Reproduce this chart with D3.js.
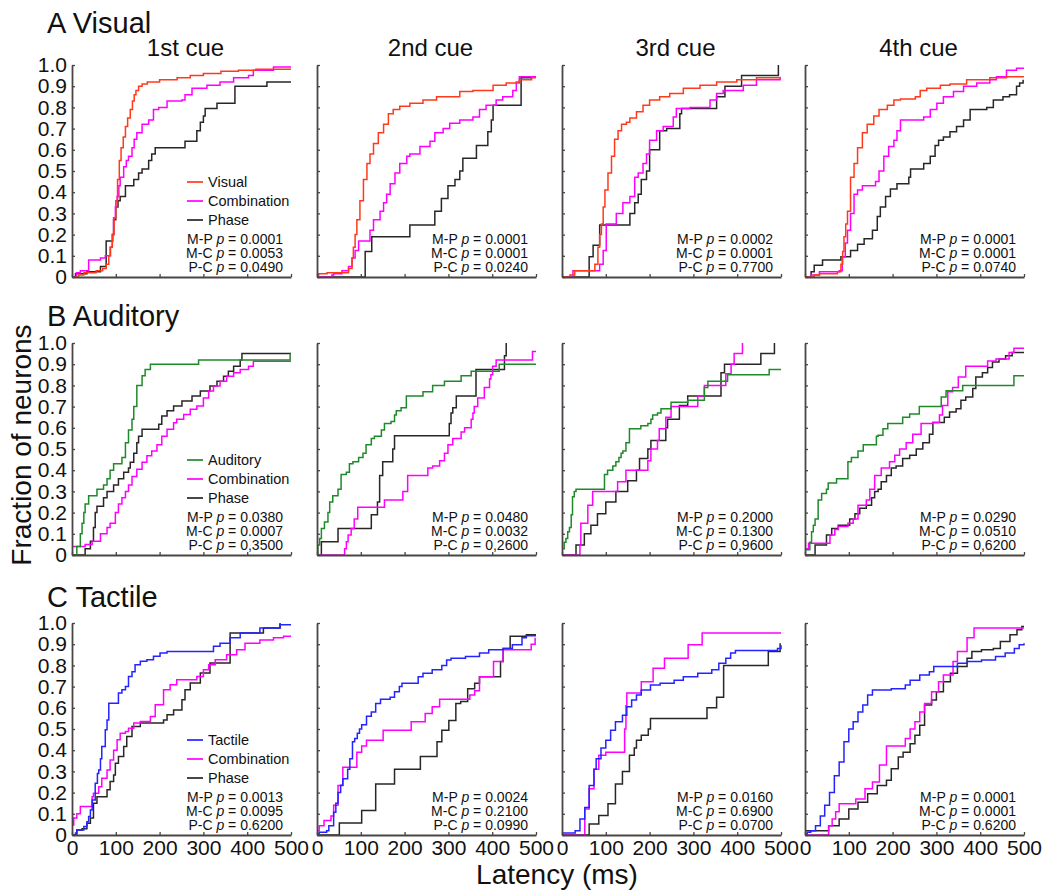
<!DOCTYPE html>
<html>
<head>
<meta charset="utf-8">
<script src="https://cdnjs.cloudflare.com/ajax/libs/d3/7.8.5/d3.min.js"></script>
<style>
body { margin: 0; background: #fff; }
svg text { font-family: Arial, "Liberation Sans", Helvetica, sans-serif; fill: #111; }
</style>
</head>
<body>
<svg id="chart" width="1042" height="894"></svg>
<script>
// ---- categories / labels ----
var rowNames = ["Visual", "Auditory", "Tactile"];
var rowLetters = ["A", "B", "C"];
var cueNames = ["1st cue", "2nd cue", "3rd cue", "4th cue"];
var xTicks = [0, 100, 200, 300, 400, 500];
var yTicks = [0, 0.1, 0.2, 0.3, 0.4, 0.5, 0.6, 0.7, 0.8, 0.9, 1.0];
var pairNames = ["M-P", "M-C", "P-C"];

// p values per row, per cue (M-P, M-C, P-C)
var pVisual = [["0.0001", "0.0053", "0.0490"], ["0.0001", "0.0001", "0.0240"], ["0.0002", "0.0001", "0.7700"], ["0.0001", "0.0001", "0.0740"]];
var pAuditory = [["0.0380", "0.0007", "0,3500"], ["0.0480", "0.0032", "0,2600"], ["0.2000", "0.1300", "0,9600"], ["0.0290", "0.0510", "0,6200"]];
var pTactile = [["0.0013", "0.0095", "0.6200"], ["0.0024", "0.2100", "0.0990"], ["0.0160", "0.6900", "0.0700"], ["0.0001", "0.0001", "0.6200"]];

// ---- cumulative curves: [latency ms, fraction of neurons] ----
// A Visual
var aVis1 = [[0,0],[15,0.01],[27,0.02],[55,0.03],[70,0.04],[78,0.06],[84,0.1],[88,0.14],[92,0.2],[96,0.28],[100,0.36],[104,0.46],[108,0.55],[112,0.61],[117,0.66],[122,0.71],[127,0.75],[133,0.79],[138,0.83],[142,0.86],[146,0.88],[152,0.9],[160,0.91],[172,0.92],[200,0.93],[240,0.94],[270,0.95],[300,0.96],[340,0.97],[380,0.975],[420,0.98],[500,0.98]];
var aComb1 = [[0,0],[10,0.02],[19,0.03],[38,0.08],[65,0.09],[76,0.1],[87,0.14],[92,0.2],[95,0.28],[99,0.33],[103,0.38],[107,0.43],[110,0.47],[118,0.52],[124,0.55],[129,0.57],[137,0.61],[142,0.65],[148,0.68],[160,0.72],[175,0.74],[186,0.79],[198,0.8],[217,0.83],[251,0.835],[258,0.86],[274,0.89],[308,0.905],[338,0.92],[369,0.94],[403,0.95],[414,0.975],[460,0.99],[500,0.99]];
var aPhase1 = [[0,0],[8,0.015],[34,0.025],[65,0.05],[78,0.17],[93,0.2],[95,0.27],[100,0.33],[105,0.36],[110,0.38],[122,0.43],[141,0.46],[152,0.49],[160,0.51],[175,0.55],[182,0.58],[190,0.61],[258,0.64],[285,0.69],[293,0.73],[300,0.76],[304,0.795],[331,0.82],[372,0.9],[445,0.92],[500,0.92]];
var aVis2 = [[0,0.01],[4,0.015],[23,0.02],[72,0.04],[80,0.09],[83,0.14],[87,0.2],[91,0.27],[98,0.36],[106,0.46],[114,0.535],[121,0.58],[129,0.63],[140,0.68],[152,0.72],[163,0.77],[174,0.79],[189,0.805],[212,0.82],[242,0.835],[273,0.85],[326,0.875],[356,0.88],[402,0.905],[432,0.915],[462,0.93],[490,0.94],[500,0.94]];
var aComb2 = [[0,0],[34,0.01],[38,0.015],[57,0.03],[72,0.05],[80,0.09],[87,0.125],[95,0.17],[121,0.22],[129,0.27],[144,0.31],[152,0.35],[159,0.39],[167,0.44],[178,0.49],[189,0.535],[205,0.57],[212,0.58],[235,0.615],[258,0.64],[269,0.68],[288,0.7],[303,0.725],[326,0.74],[356,0.755],[371,0.79],[386,0.81],[409,0.835],[424,0.85],[447,0.88],[455,0.92],[462,0.945],[500,0.945]];
var aPhase2 = [[0,0],[110,0.12],[125,0.19],[212,0.245],[269,0.31],[284,0.37],[299,0.43],[315,0.46],[326,0.5],[333,0.56],[364,0.62],[390,0.685],[398,0.74],[402,0.81],[466,0.94],[492,0.94]];
var aVis3 = [[0,0],[18,0.01],[29,0.03],[75,0.06],[82,0.14],[86,0.2],[90,0.25],[94,0.33],[98,0.41],[105,0.49],[113,0.57],[120,0.65],[128,0.69],[136,0.72],[147,0.73],[155,0.75],[170,0.78],[185,0.81],[200,0.835],[223,0.85],[246,0.865],[277,0.89],[315,0.905],[353,0.92],[399,0.93],[444,0.94],[500,0.94]];
var aComb3 = [[0,0],[25,0.03],[86,0.06],[94,0.125],[101,0.25],[124,0.3],[139,0.35],[155,0.38],[166,0.47],[174,0.49],[185,0.535],[193,0.58],[200,0.645],[216,0.69],[231,0.71],[254,0.755],[261,0.795],[292,0.8],[338,0.835],[353,0.865],[368,0.88],[414,0.905],[444,0.93],[498,0.945]];
var aPhase3 = [[0,0],[62,0.095],[71,0.15],[86,0.245],[155,0.3],[166,0.35],[174,0.39],[181,0.46],[193,0.5],[200,0.6],[223,0.69],[239,0.7],[269,0.77],[273,0.795],[353,0.85],[372,0.9],[410,0.95],[494,1.0]];
var aVis4 = [[0,0],[21,0.01],[33,0.015],[74,0.025],[82,0.06],[86,0.12],[89,0.19],[93,0.25],[97,0.31],[104,0.47],[112,0.535],[120,0.61],[131,0.68],[142,0.72],[157,0.76],[169,0.79],[188,0.81],[203,0.835],[218,0.84],[252,0.85],[263,0.88],[278,0.89],[309,0.905],[331,0.91],[369,0.93],[422,0.94],[460,0.945],[500,0.945]];
var aComb4 = [[0,0],[14,0.01],[33,0.025],[78,0.03],[85,0.095],[92,0.16],[97,0.22],[104,0.3],[112,0.39],[120,0.41],[131,0.43],[161,0.45],[169,0.5],[180,0.57],[191,0.615],[203,0.645],[210,0.69],[218,0.74],[271,0.755],[286,0.79],[301,0.82],[316,0.85],[339,0.875],[362,0.9],[392,0.915],[422,0.93],[437,0.945],[460,0.975],[483,0.985],[500,0.985]];
var aPhase4 = [[0,0],[14,0.025],[21,0.055],[40,0.08],[82,0.095],[104,0.125],[120,0.155],[135,0.18],[154,0.22],[165,0.285],[172,0.33],[184,0.38],[195,0.415],[210,0.44],[237,0.47],[241,0.51],[271,0.535],[286,0.57],[297,0.62],[305,0.645],[316,0.66],[331,0.685],[346,0.71],[362,0.74],[377,0.79],[415,0.8],[430,0.835],[452,0.85],[467,0.86],[483,0.9],[490,0.915],[498,0.93]];

// B Auditory
var bAud1 = [[0,0],[11,0.04],[19,0.1],[23,0.15],[27,0.2],[30,0.24],[38,0.28],[57,0.31],[72,0.33],[80,0.36],[87,0.4],[95,0.43],[114,0.46],[122,0.53],[129,0.59],[137,0.64],[141,0.7],[148,0.8],[160,0.845],[167,0.875],[179,0.9],[289,0.92],[498,0.95]];
var bComb1 = [[0,0.04],[30,0.05],[46,0.065],[65,0.1],[80,0.13],[87,0.15],[99,0.2],[106,0.24],[114,0.27],[122,0.3],[129,0.33],[137,0.37],[148,0.405],[160,0.437],[171,0.468],[182,0.49],[194,0.52],[205,0.56],[217,0.593],[232,0.624],[239,0.64],[255,0.663],[270,0.687],[285,0.703],[300,0.74],[312,0.773],[323,0.797],[338,0.82],[353,0.843],[369,0.86],[384,0.875],[403,0.89],[414,0.914],[500,0.914]];
var bPhase1 = [[0,0],[30,0.03],[42,0.065],[49,0.13],[53,0.2],[57,0.23],[72,0.27],[80,0.3],[95,0.33],[106,0.36],[118,0.39],[129,0.41],[133,0.437],[141,0.48],[148,0.53],[152,0.56],[160,0.593],[198,0.617],[205,0.656],[217,0.68],[232,0.703],[251,0.726],[274,0.75],[293,0.773],[315,0.797],[331,0.82],[346,0.843],[357,0.867],[369,0.89],[384,0.92],[388,0.95],[500,0.95]];
var bAud2 = [[0,0],[2,0.047],[6,0.078],[10,0.125],[17,0.156],[25,0.2],[29,0.25],[36,0.28],[48,0.31],[55,0.38],[67,0.39],[74,0.43],[82,0.44],[95,0.46],[105,0.48],[112,0.52],[124,0.55],[131,0.56],[147,0.59],[154,0.62],[169,0.63],[177,0.66],[181,0.68],[192,0.695],[204,0.75],[242,0.77],[264,0.8],[291,0.82],[329,0.845],[352,0.867],[416,0.9],[500,0.9]];
var bComb2 = [[0,0],[63,0.03],[67,0.0625],[71,0.094],[78,0.125],[85,0.17],[93,0.225],[154,0.26],[196,0.3],[207,0.375],[253,0.41],[264,0.42],[280,0.445],[291,0.48],[299,0.52],[310,0.55],[329,0.58],[337,0.6],[352,0.64],[356,0.67],[359,0.7],[367,0.74],[382,0.79],[394,0.83],[397,0.85],[401,0.89],[409,0.92],[492,0.96],[500,0.96]];
var bPhase2 = [[0,0],[10,0.0625],[48,0.125],[124,0.19],[138,0.25],[143,0.375],[150,0.44],[173,0.5],[177,0.5625],[302,0.62],[306,0.67],[310,0.695],[318,0.75],[363,0.875],[428,0.94],[432,1.0]];
var bAud3 = [[0,0.03],[5,0.06],[9,0.078],[13,0.11],[17,0.13],[21,0.19],[24,0.275],[28,0.3],[32,0.31],[97,0.38],[104,0.4],[116,0.42],[123,0.44],[130,0.46],[135,0.48],[139,0.49],[146,0.53],[154,0.595],[180,0.61],[196,0.62],[203,0.64],[207,0.66],[218,0.67],[226,0.69],[249,0.72],[287,0.73],[325,0.79],[333,0.82],[378,0.85],[473,0.875],[500,0.875]];
var bComb3 = [[0,0],[41,0.047],[43,0.15],[59,0.235],[70,0.3],[127,0.345],[146,0.4],[196,0.445],[203,0.5],[218,0.54],[222,0.595],[237,0.65],[249,0.7],[310,0.75],[325,0.8],[374,0.855],[386,0.9],[393,0.95],[412,1.0]];
var bPhase3 = [[0,0],[32,0.047],[51,0.1],[66,0.14],[81,0.195],[100,0.25],[123,0.3],[150,0.35],[170,0.4],[177,0.455],[196,0.5],[203,0.54],[237,0.6],[241,0.64],[268,0.705],[287,0.75],[363,0.86],[371,0.9],[454,0.95],[485,1.0]];
var bAud4 = [[0,0.025],[11,0.06],[15,0.11],[19,0.14],[23,0.17],[30,0.26],[38,0.29],[49,0.31],[53,0.34],[72,0.36],[98,0.44],[106,0.46],[121,0.49],[133,0.52],[163,0.56],[167,0.565],[178,0.595],[189,0.62],[223,0.65],[239,0.665],[261,0.7],[311,0.745],[322,0.775],[360,0.8],[477,0.845],[500,0.845]];
var bComb4 = [[0,0.03],[8,0.055],[57,0.094],[68,0.12],[76,0.135],[98,0.15],[110,0.17],[121,0.235],[140,0.26],[148,0.31],[159,0.375],[174,0.41],[193,0.44],[205,0.47],[216,0.5],[231,0.53],[246,0.57],[265,0.62],[292,0.625],[307,0.66],[314,0.705],[326,0.77],[337,0.79],[350,0.84],[367,0.89],[417,0.915],[436,0.925],[466,0.955],[477,0.975],[500,0.975]];
var bPhase4 = [[0,0],[23,0.047],[49,0.094],[61,0.125],[76,0.14],[102,0.17],[114,0.195],[125,0.22],[140,0.235],[152,0.27],[159,0.3],[167,0.31],[174,0.345],[186,0.375],[197,0.41],[208,0.42],[223,0.455],[239,0.47],[254,0.5],[269,0.53],[284,0.57],[292,0.625],[318,0.65],[330,0.675],[345,0.69],[356,0.73],[367,0.745],[383,0.785],[390,0.84],[405,0.86],[417,0.885],[428,0.91],[443,0.925],[458,0.94],[473,0.955],[500,0.955]];

// C Tactile
var cTac1 = [[0,0],[8,0.01],[11,0.024],[27,0.04],[34,0.063],[38,0.087],[42,0.118],[46,0.165],[53,0.244],[58,0.29],[61,0.307],[65,0.36],[68,0.417],[76,0.496],[80,0.543],[84,0.622],[106,0.67],[114,0.685],[122,0.7],[129,0.748],[137,0.77],[144,0.803],[156,0.82],[171,0.827],[186,0.843],[201,0.858],[217,0.866],[323,0.89],[338,0.905],[361,0.93],[384,0.953],[429,0.976],[475,0.992],[500,0.992]];
var cComb1 = [[0,0.047],[4,0.08],[11,0.1],[19,0.134],[46,0.18],[49,0.197],[61,0.228],[68,0.268],[80,0.307],[87,0.354],[95,0.4],[103,0.449],[110,0.48],[122,0.488],[129,0.504],[141,0.528],[156,0.535],[179,0.559],[190,0.614],[209,0.685],[224,0.709],[239,0.732],[285,0.748],[300,0.78],[312,0.803],[327,0.827],[353,0.85],[376,0.874],[395,0.905],[429,0.92],[460,0.93],[483,0.937],[500,0.937]];
var cPhase1 = [[0,0],[11,0.024],[23,0.03],[34,0.055],[42,0.08],[49,0.15],[57,0.18],[80,0.213],[87,0.252],[95,0.283],[99,0.339],[106,0.37],[118,0.417],[125,0.465],[137,0.512],[156,0.528],[209,0.543],[217,0.567],[232,0.59],[251,0.638],[258,0.685],[270,0.717],[293,0.764],[315,0.811],[361,0.953],[437,0.976],[475,1.0]];
var cTac2 = [[0,0.005],[5,0.013],[22,0.02],[27,0.044],[38,0.107],[43,0.15],[48,0.2],[54,0.235],[59,0.265],[70,0.31],[75,0.36],[81,0.44],[86,0.455],[92,0.48],[97,0.5],[102,0.52],[113,0.56],[124,0.58],[134,0.62],[145,0.64],[167,0.65],[177,0.676],[188,0.7],[194,0.716],[231,0.747],[242,0.763],[263,0.779],[285,0.8],[296,0.826],[306,0.834],[339,0.842],[371,0.858],[392,0.874],[425,0.88],[446,0.897],[468,0.93],[478,0.94],[500,0.94]];
var cComb2 = [[0,0.02],[5,0.044],[16,0.068],[32,0.09],[38,0.14],[48,0.234],[59,0.32],[91,0.39],[102,0.42],[113,0.447],[151,0.494],[215,0.534],[247,0.573],[263,0.605],[280,0.64],[349,0.66],[360,0.68],[371,0.747],[403,0.818],[425,0.874],[489,0.9],[498,0.93]];
var cPhase2 = [[0,0],[51,0.057],[102,0.115],[134,0.24],[177,0.31],[236,0.37],[274,0.44],[285,0.494],[301,0.54],[317,0.62],[328,0.63],[344,0.69],[360,0.716],[371,0.747],[419,0.818],[425,0.88],[441,0.937],[478,0.945],[500,0.945]];
var cTac3 = [[0,0.01],[30,0.02],[41,0.076],[52,0.13],[62,0.234],[73,0.31],[78,0.36],[89,0.41],[100,0.447],[111,0.494],[122,0.534],[138,0.565],[148,0.605],[159,0.637],[170,0.66],[181,0.684],[202,0.708],[224,0.716],[256,0.73],[277,0.747],[310,0.763],[342,0.779],[358,0.81],[374,0.834],[385,0.858],[396,0.87],[492,0.88],[500,0.895]];
var cComb3 = [[0,0],[52,0.123],[62,0.218],[73,0.31],[84,0.376],[100,0.39],[143,0.5],[146,0.61],[148,0.67],[181,0.723],[208,0.786],[234,0.834],[288,0.897],[320,0.953],[500,0.953]];
var cPhase3 = [[0,0],[62,0.052],[84,0.092],[105,0.147],[122,0.24],[138,0.3],[154,0.376],[165,0.41],[170,0.447],[181,0.47],[197,0.5],[202,0.55],[331,0.6],[353,0.65],[369,0.8],[471,0.866],[498,0.905]];
var cTac4 = [[0,0.005],[5,0.013],[13,0.02],[24,0.044],[35,0.09],[45,0.14],[56,0.2],[67,0.28],[78,0.344],[89,0.44],[100,0.5],[110,0.534],[121,0.58],[132,0.613],[143,0.66],[154,0.684],[197,0.69],[229,0.708],[240,0.73],[262,0.755],[284,0.77],[294,0.795],[348,0.81],[370,0.818],[403,0.826],[435,0.842],[457,0.858],[478,0.88],[489,0.897],[500,0.905]];
var cComb4 = [[0,0],[54,0.044],[62,0.076],[70,0.11],[78,0.147],[116,0.17],[137,0.218],[154,0.25],[170,0.33],[186,0.42],[229,0.455],[240,0.5],[251,0.534],[262,0.58],[273,0.62],[289,0.676],[305,0.723],[316,0.755],[338,0.818],[348,0.866],[370,0.93],[386,0.976],[500,0.976]];
var cPhase4 = [[0,0.02],[54,0.044],[78,0.076],[100,0.123],[121,0.155],[143,0.194],[165,0.234],[186,0.258],[197,0.313],[213,0.368],[224,0.39],[240,0.43],[251,0.47],[262,0.518],[273,0.613],[289,0.637],[300,0.676],[316,0.723],[332,0.763],[348,0.795],[370,0.834],[381,0.866],[403,0.874],[430,0.88],[446,0.913],[468,0.945],[484,0.968],[495,0.984],[500,0.984]];

// grid of panels built from the named arrays
var modalityCurves = [[aVis1, aVis2, aVis3, aVis4], [bAud1, bAud2, bAud3, bAud4], [cTac1, cTac2, cTac3, cTac4]];
var combCurves = [[aComb1, aComb2, aComb3, aComb4], [bComb1, bComb2, bComb3, bComb4], [cComb1, cComb2, cComb3, cComb4]];
var phaseCurves = [[aPhase1, aPhase2, aPhase3, aPhase4], [bPhase1, bPhase2, bPhase3, bPhase4], [cPhase1, cPhase2, cPhase3, cPhase4]];
var pTables = [pVisual, pAuditory, pTactile];

var modalityColor = ["#ff3a1a", "#1f8a2a", "#2424ff"];
var combColor = "#ff00ff";
var phaseColor = "#2a2526";
var axisColor = "#4a4444";

var svg = d3.select("#chart");

var panelW = 219, panelH = 212;
var colLeft = [72, 317, 562, 805];
var rowTop = [65, 343, 623];

var xScale = d3.scaleLinear().domain([0, 500]).range([0, panelW]);
var yScale = d3.scaleLinear().domain([0, 1]).range([panelH, 0]);

var stepLine = d3.line()
    .x(function(d) { return xScale(d[0]); })
    .y(function(d) { return yScale(d[1]); })
    .curve(d3.curveStepAfter);

function styleAxis(g) {
    g.attr("font-family", null).attr("font-size", null);
    g.select(".domain").attr("stroke", axisColor).attr("stroke-width", 1.8);
    g.selectAll(".tick line").attr("stroke", axisColor).attr("stroke-width", 1.3);
    g.selectAll(".tick text").attr("font-size", "21px").attr("fill", "#111");
}

//Draw one panel
function drawPanel(r, c) {
    var g = svg.append("g")
        .attr("transform", "translate(" + colLeft[c] + "," + rowTop[r] + ")");

    // curves: phase, combination, then the single modality on top
    var series = [
        {data: phaseCurves[r][c], color: phaseColor},
        {data: combCurves[r][c], color: combColor},
        {data: modalityCurves[r][c], color: modalityColor[r]}
    ];
    g.selectAll(".curve")
        .data(series)
        .enter().append("path")
        .attr("class", "curve")
        .attr("d", function(d) { return stepLine(d.data); })
        .attr("fill", "none")
        .attr("stroke", function(d) { return d.color; })
        .attr("stroke-width", 1.5);

    //Axes, ticks point inward
    var yAxis = d3.axisLeft(yScale)
        .tickValues(yTicks)
        .tickSizeInner(-3).tickSizeOuter(0).tickPadding(5)
        .tickFormat(function(d) {
            if (c > 0) return "";
            return d === 0 ? "0" : d3.format(".1f")(d);
        });
    var xAxis = d3.axisBottom(xScale)
        .tickValues(xTicks)
        .tickSizeInner(-3).tickSizeOuter(0).tickPadding(5)
        .tickFormat(function(d) { return r === 2 ? d : ""; });

    g.append("g").attr("class", "y axis").call(yAxis).call(styleAxis);
    g.append("g").attr("class", "x axis")
        .attr("transform", "translate(0," + panelH + ")")
        .call(xAxis).call(styleAxis);

    // p values, right aligned
    var p = pTables[r][c];
    var pRows = [-38, -24, -10];
    for (var i = 0; i < 3; ++i) {
        var t = g.append("text")
            .attr("x", panelW - 8)
            .attr("y", panelH + pRows[i])
            .attr("dy", "0.35em")
            .attr("text-anchor", "end")
            .attr("font-size", "14px");
        t.append("tspan").text(pairNames[i] + " ");
        t.append("tspan").attr("font-style", "italic").text("p");
        t.append("tspan").text(" = " + p[i]);
    }

    //Legend only in the first column
    if (c === 0) {
        var labels = [rowNames[r], "Combination", "Phase"];
        var colors = [modalityColor[r], combColor, phaseColor];
        var legRows = [-95, -76, -57];
        for (var k = 0; k < 3; ++k) {
            g.append("line")
                .attr("x1", 115).attr("x2", 131)
                .attr("y1", panelH + legRows[k]).attr("y2", panelH + legRows[k])
                .attr("stroke", colors[k]).attr("stroke-width", 1.7);
            g.append("text")
                .attr("x", 136).attr("y", panelH + legRows[k])
                .attr("dy", "0.35em")
                .attr("font-size", "14.5px")
                .text(labels[k]);
        }
    }
}

for (var r = 0; r < 3; ++r) {
    for (var c = 0; c < 4; ++c) {
        drawPanel(r, c);
    }
}

// row titles
var titleY = [33, 326, 607];
svg.selectAll(".rowTitle")
    .data(rowNames)
    .enter().append("text")
    .attr("class", "rowTitle")
    .attr("x", 47)
    .attr("y", function(d, i) { return titleY[i]; })
    .attr("font-size", "29px")
    .text(function(d, i) { return rowLetters[i] + " " + d; });

// cue headers
svg.selectAll(".cue")
    .data(cueNames)
    .enter().append("text")
    .attr("class", "cue")
    .attr("x", function(d, i) { return colLeft[i] + panelW / 2 + 4; })
    .attr("y", 56)
    .attr("text-anchor", "middle")
    .attr("font-size", "24px")
    .text(function(d) { return d; });

// axis titles
svg.append("text")
    .attr("transform", "translate(31,445) rotate(-90)")
    .attr("text-anchor", "middle")
    .attr("font-size", "28px")
    .text("Fraction of neurons");

svg.append("text")
    .attr("x", 557)
    .attr("y", 884)
    .attr("text-anchor", "middle")
    .attr("font-size", "28px")
    .text("Latency (ms)");
</script>
</body>
</html>
